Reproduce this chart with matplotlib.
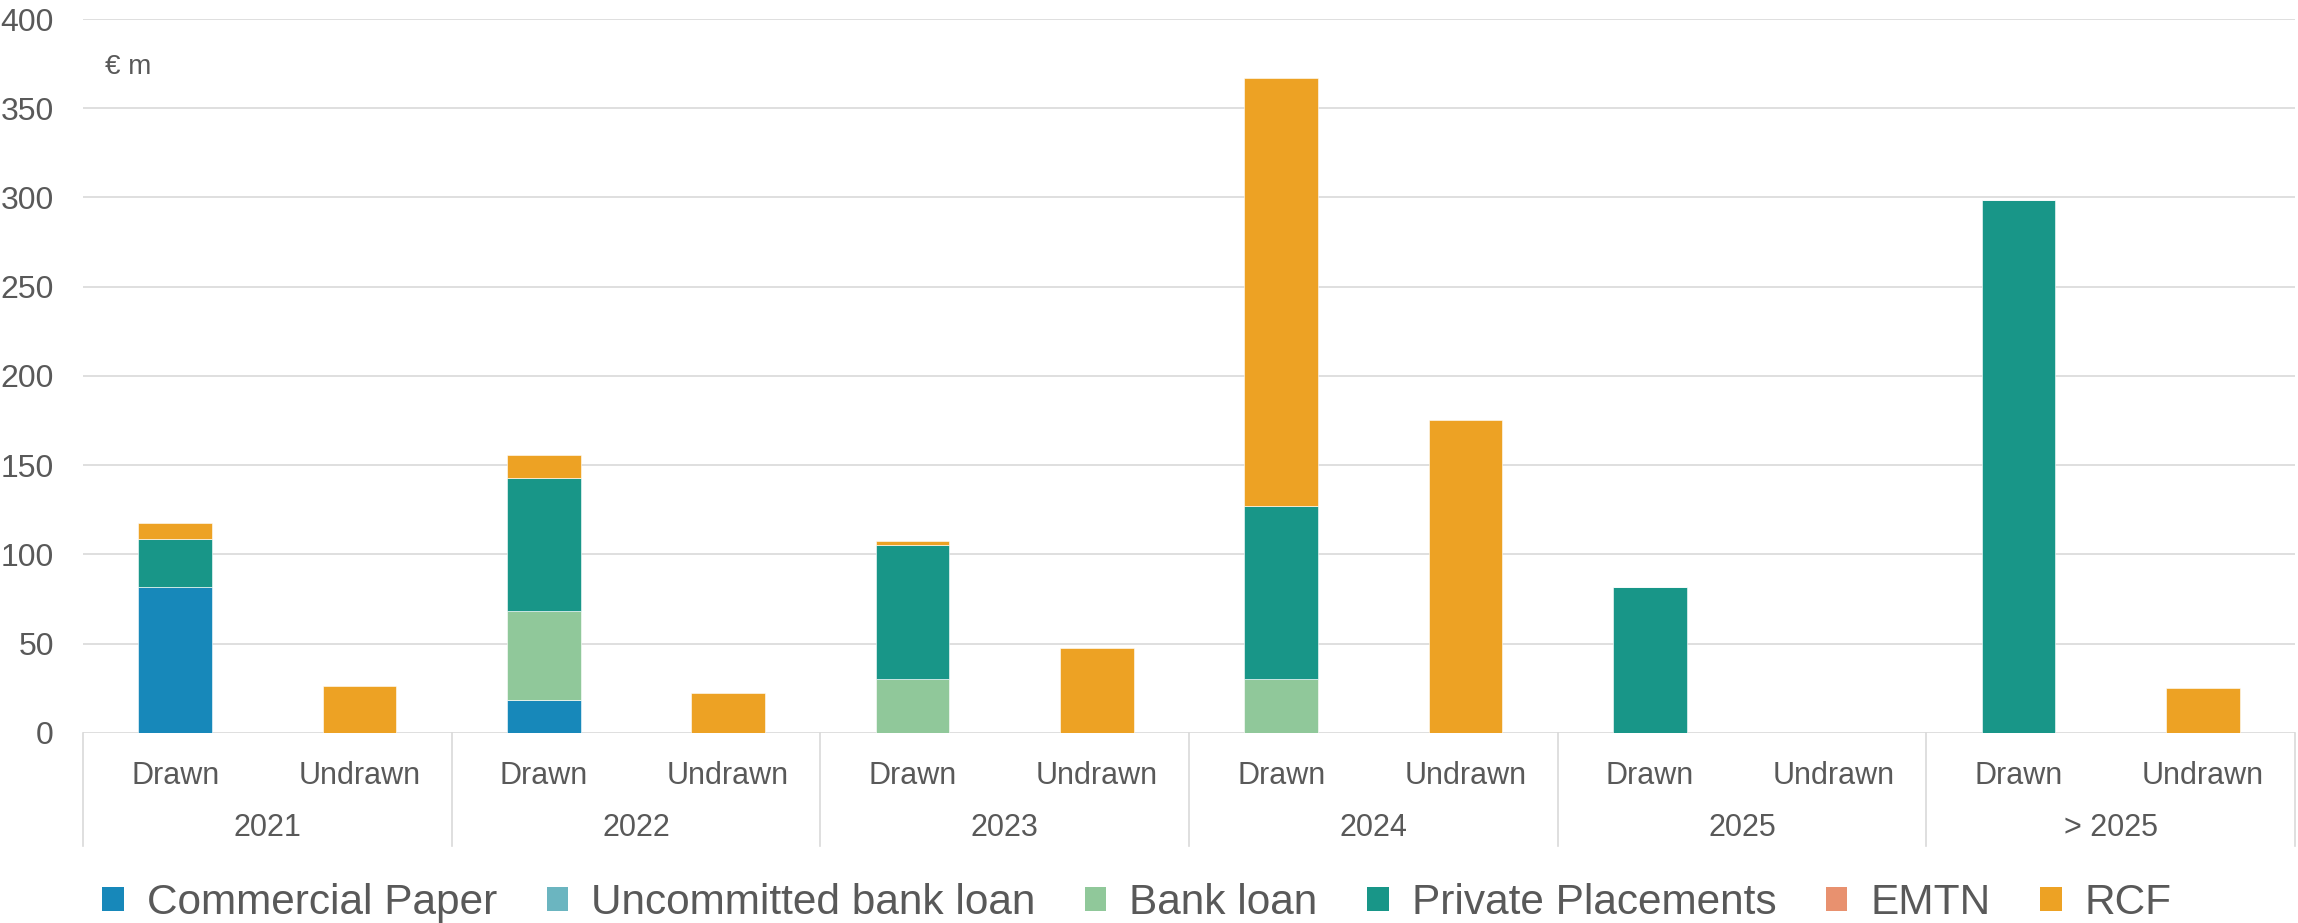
import numpy as np
import matplotlib.pyplot as plt
from matplotlib.patches import Patch
from matplotlib.transforms import blended_transform_factory

plt.rcParams['font.family'] = ['Liberation Sans', 'DejaVu Sans']

# Maturity profile, € m
years = ['2021', '2022', '2023', '2024', '2025', '> 2025']
kinds = ['Drawn', 'Undrawn']

commercial_paper = [81.6, 0, 18.3, 0, 0, 0, 0, 0, 0, 0, 0, 0]
uncommitted_loan = [0, 0, 0, 0, 0, 0, 0, 0, 0, 0, 0, 0]
bank_loan = [0, 0, 50.2, 0, 30.1, 0, 30.4, 0, 0, 0, 0, 0]
private_placements = [26.9, 0, 74.6, 0, 75.1, 0, 97.0, 0, 82.0, 0, 298.4, 0]
emtn = [0, 0, 0, 0, 0, 0, 0, 0, 0, 0, 0, 0]
rcf = [9.1, 26.2, 12.7, 22.4, 2.3, 47.8, 239.8, 175.1, 0, 0, 0, 25.0]

series = [
    ('Commercial Paper', commercial_paper, '#1788BA'),
    ('Uncommitted bank loan', uncommitted_loan, '#6BB5C0'),
    ('Bank loan', bank_loan, '#90C89A'),
    ('Private Placements', private_placements, '#189688'),
    ('EMTN', emtn, '#E8916F'),
    ('RCF', rcf, '#EDA224'),
]

text_col = '#595959'
grid_col = '#D9D9D9'

fig = plt.figure(figsize=(22.98, 9.23), dpi=100)
ax = fig.add_axes([0.0361, 0.2059, 0.9626, 0.7735])

x = np.arange(len(years) * len(kinds))
bottom = np.zeros(len(x))
for name, vals, col in series:
    vals = np.array(vals, dtype=float)
    ax.bar(x, vals, width=0.4, bottom=bottom, color=col,
           edgecolor='white', linewidth=0.4, zorder=3)
    bottom += vals

ax.set_xlim(-0.5, len(x) - 0.5)
ax.set_ylim(0, 400)
ax.set_yticks(np.arange(0, 401, 50))
ax.yaxis.grid(True, color=grid_col, linewidth=1.2, zorder=0)
for s in ax.spines.values():
    s.set_visible(False)
ax.tick_params(axis='y', length=0, pad=21, labelsize=23, labelcolor=text_col)

# inner level: Drawn / Undrawn
ax.set_xticks(x)
ax.set_xticklabels(kinds * len(years))
ax.tick_params(axis='x', length=0, pad=20, labelsize=22, labelcolor=text_col)

# outer level: years, with separators between groups
trans = blended_transform_factory(ax.transData, ax.transAxes)
sep_depth = -113 / 714
for i, yr in enumerate(years):
    ax.text(2 * i + 0.5, -95 / 714, yr, transform=trans, ha='center', va='center',
            fontsize=22, color=text_col)
for b in np.arange(-0.5, len(x), 2):
    ax.plot([b, b], [0, sep_depth], transform=trans, color=grid_col,
            linewidth=1.2, clip_on=False)

ax.text(0.0099, 0.9328, '€ m', transform=ax.transAxes, ha='left', va='center',
        fontsize=20, color=text_col)

handles = [Patch(facecolor=c, edgecolor='none', label=n) for n, _, c in series]
fig.legend(handles=handles, loc='center', bbox_to_anchor=(1137 / 2298, 1 - 903 / 923),
           ncol=6, frameon=False, fontsize=30.5, labelcolor=text_col,
           handlelength=0.5, handleheight=0.5, handletextpad=0.54,
           columnspacing=1.18, borderaxespad=0, borderpad=0)

fig.savefig('out.png', dpi=100)
